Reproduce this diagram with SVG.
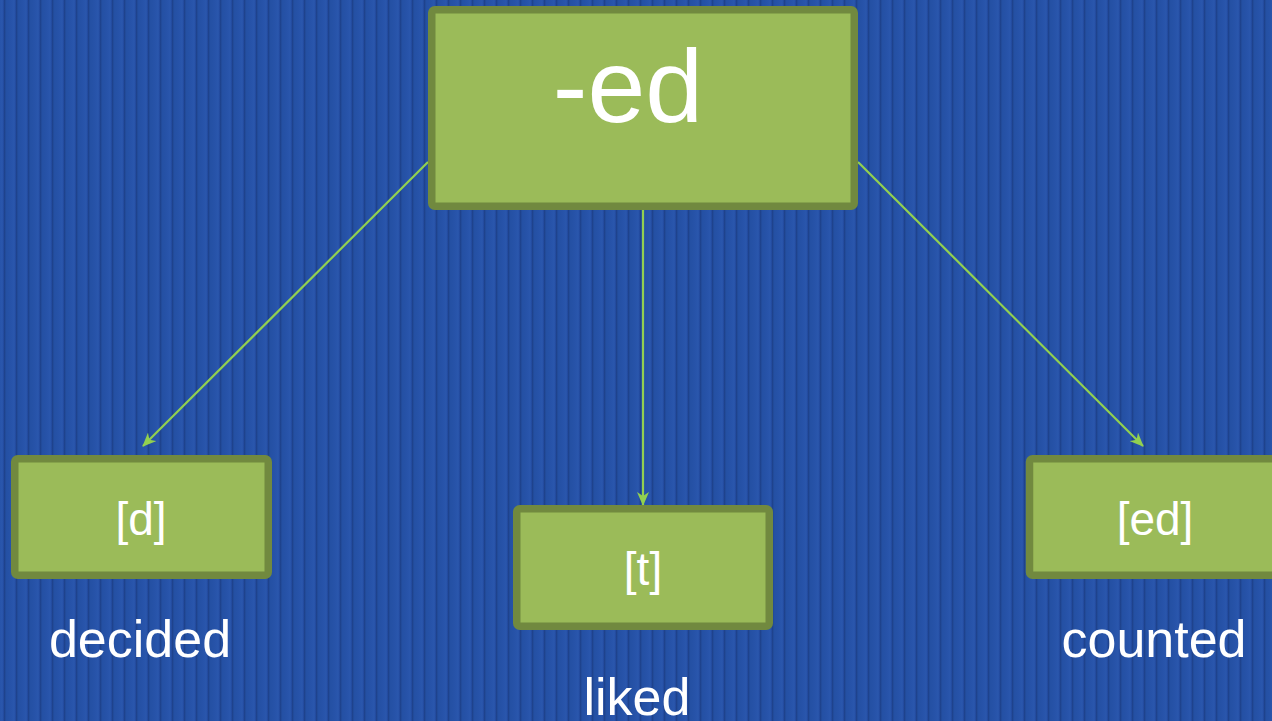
<svg xmlns="http://www.w3.org/2000/svg" width="1272" height="721" viewBox="0 0 1272 721">
<defs>
<linearGradient id="sg" x1="0" y1="0" x2="1" y2="0">
<stop offset="0" stop-color="#1d3f86"/>
<stop offset="0.18" stop-color="#2450a3"/>
<stop offset="0.6" stop-color="#2753a9"/>
<stop offset="0.85" stop-color="#2a57ad"/>
<stop offset="1" stop-color="#21479a"/>
</linearGradient>
<pattern id="stripes" x="4" y="0" width="12" height="40" patternUnits="userSpaceOnUse">
<rect width="12" height="40" fill="url(#sg)"/>
</pattern>
<marker id="arr" viewBox="0 0 14 12" refX="13" refY="6" markerWidth="14" markerHeight="12" markerUnits="userSpaceOnUse" orient="auto">
<path d="M0,0 L14,6 L0,12 L4,6 Z" fill="#92d050"/>
</marker>
<style>
.box{fill:#9bbb59;stroke:#71893f;stroke-width:7.5}
.t{font-family:"Liberation Sans",Arial,sans-serif;fill:#ffffff;text-anchor:middle}
.c{stroke:#92d050;stroke-width:2.2;fill:none}
</style>
</defs>
<rect width="1272" height="721" fill="url(#stripes)"/>
<g id="connectors">
<line class="c" x1="428" y1="162" x2="143" y2="446" marker-end="url(#arr)"/>
<line class="c" x1="643" y1="210" x2="643" y2="505" marker-end="url(#arr)"/>
<line class="c" x1="858" y1="162" x2="1143" y2="446" marker-end="url(#arr)"/>
</g>
<g id="node-ed">
<rect class="box" x="431.75" y="9.75" width="422.5" height="196.5" rx="3"/>
<text class="t" x="628" y="122" font-size="104">-ed</text>
</g>
<g id="node-d">
<rect class="box" x="14.75" y="458.75" width="253.5" height="116.5" rx="3"/>
<text class="t" x="141" y="535" font-size="46">[d]</text>
</g>
<g id="node-t">
<rect class="box" x="516.75" y="508.75" width="252.5" height="117.5" rx="3"/>
<text class="t" x="643" y="585" font-size="46">[t]</text>
</g>
<g id="node-ed2">
<rect class="box" x="1029.5" y="458.75" width="260" height="116.5" rx="3"/>
<text class="t" x="1155" y="535" font-size="46">[ed]</text>
</g>
<g id="labels">
<text class="t" x="140" y="657" font-size="52">decided</text>
<text class="t" x="637" y="715" font-size="52">liked</text>
<text class="t" x="1154" y="657" font-size="52">counted</text>
</g>
</svg>
